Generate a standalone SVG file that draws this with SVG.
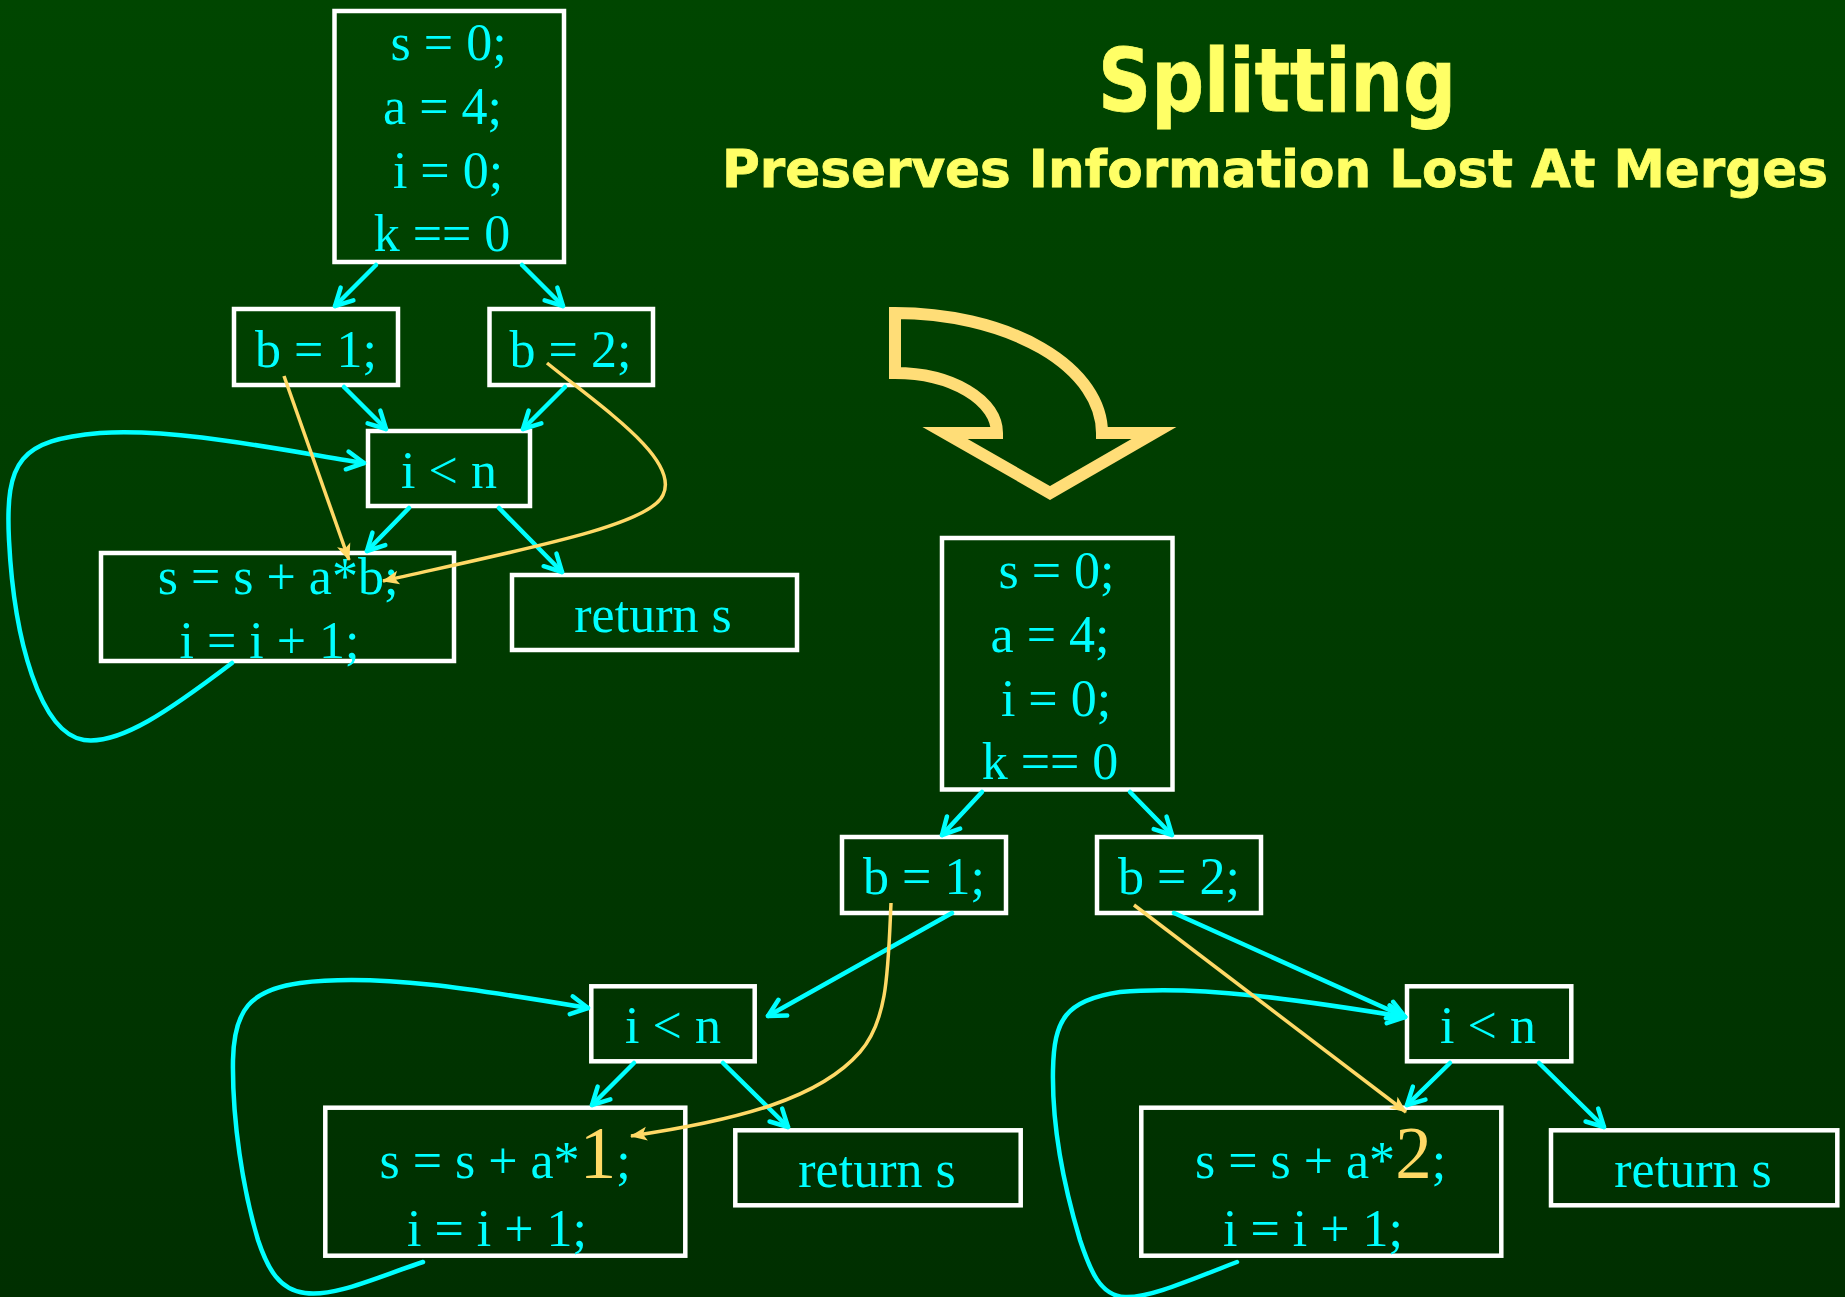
<svg xmlns="http://www.w3.org/2000/svg" width="1845" height="1297" viewBox="0 0 1845 1297">
  <defs>
    <linearGradient id="bg" x1="0" y1="0" x2="0" y2="1">
      <stop offset="0" stop-color="#004600"/>
      <stop offset="1" stop-color="#002f00"/>
    </linearGradient>
    <marker id="cyanHead" markerUnits="userSpaceOnUse" markerWidth="40" markerHeight="40" viewBox="-20 -20 40 40" refX="0" refY="0" orient="auto" overflow="visible">
      <path d="M-17,-9 L0,0 L-17,9" fill="none" stroke="#00ffff" stroke-width="4.5" stroke-linecap="round" stroke-linejoin="round"/>
    </marker>
    <marker id="goldHead" markerUnits="userSpaceOnUse" markerWidth="40" markerHeight="40" viewBox="-20 -20 40 40" refX="0" refY="0" orient="auto" overflow="visible">
      <path d="M1,0 L-16,-7 L-12,0 L-16,7 Z" fill="#ffd966"/>
    </marker>
    <style>
      .box { fill: none; stroke: #ffffff; stroke-width: 4.5; }
      .code { font-family: "Liberation Serif", "Times New Roman", serif; font-size: 52px; fill: #00ffff; text-anchor: middle; }
      .big { font-size: 73px; fill: #ffd966; }
      .flow { fill: none; stroke: #00ffff; stroke-width: 4.5; stroke-linecap: round; marker-end: url(#cyanHead); }
      .value { fill: none; stroke: #ffd966; stroke-width: 3.5; stroke-linecap: butt; marker-end: url(#goldHead); }
      .title { font-family: "DejaVu Sans", Verdana, sans-serif; font-weight: bold; fill: #ffff66; stroke: #ffff66; stroke-width: 0.8; }
    </style>
  </defs>

  <rect x="0" y="0" width="1845" height="1297" fill="url(#bg)"/>

  <!-- heading -->
  <g id="heading">
    <text class="title" x="1098" y="111" font-size="88" textLength="358" lengthAdjust="spacingAndGlyphs">Splitting</text>
    <text class="title" x="722" y="187" font-size="51.5" textLength="1106" lengthAdjust="spacingAndGlyphs">Preserves Information Lost At Merges</text>
  </g>

  <!-- transformation arrow between the two graphs -->
  <g id="transform-arrow">
    <path d="M895,313 L895,373 A102,60 0 0 1 997,433 L945,433 L1050,493 L1154,433 L1102,433 A207,120 0 0 0 895,313 Z"
          fill="none" stroke="#ffdd77" stroke-width="12" stroke-linejoin="miter" stroke-miterlimit="10"/>
  </g>

  <!-- ===== original graph ===== -->
  <g id="a-entry">
    <rect class="box" x="334.5" y="11" width="229.5" height="251"/>
    <text class="code" x="448.6" y="60">s = 0;</text>
    <text class="code" x="442.5" y="124">a = 4;</text>
    <text class="code" x="448" y="188">i = 0;</text>
    <text class="code" x="442" y="251">k == 0</text>
  </g>
  <g id="a-b1">
    <rect class="box" x="234" y="309" width="164" height="76"/>
    <text class="code" x="316" y="367">b = 1;</text>
  </g>
  <g id="a-b2">
    <rect class="box" x="489.5" y="309" width="163.5" height="76"/>
    <text class="code" x="570.5" y="367">b = 2;</text>
  </g>
  <g id="a-test">
    <rect class="box" x="368" y="431" width="162" height="75"/>
    <text class="code" x="449" y="488">i &lt; n</text>
  </g>
  <g id="a-body">
    <rect class="box" x="101" y="553" width="353" height="108"/>
    <text class="code" x="278" y="594">s = s + a*b;</text>
    <text class="code" x="269.5" y="658">i = i + 1;</text>
  </g>
  <g id="a-return">
    <rect class="box" x="512" y="575" width="285" height="75"/>
    <text class="code" x="653" y="632">return s</text>
  </g>

  <!-- ===== split graph ===== -->
  <g id="b-entry">
    <rect class="box" x="942" y="538" width="230.5" height="251.5"/>
    <text class="code" x="1056.5" y="588">s = 0;</text>
    <text class="code" x="1050" y="652">a = 4;</text>
    <text class="code" x="1056" y="716">i = 0;</text>
    <text class="code" x="1050" y="779">k == 0</text>
  </g>
  <g id="b-b1">
    <rect class="box" x="842" y="837" width="164" height="76"/>
    <text class="code" x="924" y="894">b = 1;</text>
  </g>
  <g id="b-b2">
    <rect class="box" x="1097" y="837" width="164" height="76"/>
    <text class="code" x="1179" y="894">b = 2;</text>
  </g>
  <g id="b-test1">
    <rect class="box" x="591.3" y="986.3" width="163.4" height="75"/>
    <text class="code" x="673" y="1043">i &lt; n</text>
  </g>
  <g id="b-body1">
    <rect class="box" x="325.3" y="1107.7" width="360" height="148"/>
    <text class="code" x="505" y="1178">s = s + a*<tspan class="big">1</tspan>;</text>
    <text class="code" x="497" y="1246">i = i + 1;</text>
  </g>
  <g id="b-return1">
    <rect class="box" x="735.3" y="1130.3" width="285.4" height="75"/>
    <text class="code" x="877" y="1187">return s</text>
  </g>
  <g id="b-test2">
    <rect class="box" x="1407" y="986.3" width="164.3" height="75"/>
    <text class="code" x="1488" y="1043">i &lt; n</text>
  </g>
  <g id="b-body2">
    <rect class="box" x="1141.3" y="1107.7" width="360" height="148"/>
    <text class="code" x="1320.5" y="1178">s = s + a*<tspan class="big">2</tspan>;</text>
    <text class="code" x="1313" y="1246">i = i + 1;</text>
  </g>
  <g id="b-return2">
    <rect class="box" x="1551" y="1130.3" width="286.3" height="75"/>
    <text class="code" x="1693" y="1187">return s</text>
  </g>

  <!-- connectors: control flow (cyan) and value flow (gold) -->
  <g id="connectors">
    <!-- original graph -->
    <path class="flow" d="M376,265 L335,306"/>
    <path class="flow" d="M522,265 L563,306"/>
    <path class="flow" d="M344,387 L386,429"/>
    <path class="flow" d="M565,387 L523,429"/>
    <path class="flow" d="M409,508 L367,551"/>
    <path class="flow" d="M499,508 L562,572"/>
    <path class="flow" d="M232,663 C170,710 120,745 84,740 C40,733 14,640 9,540 C5,460 20,440 100,433 C180,428 280,450 364,463"/>
    <path class="value" d="M284,376 L349,560"/>
    <path class="value" d="M547,363 C605,410 680,460 663,495 C650,525 530,548 383,581"/>

    <!-- split graph -->
    <path class="flow" d="M982,792 L942,835"/>
    <path class="flow" d="M1130,792 L1172,835"/>
    <path class="flow" d="M952,913 L768,1016"/>
    <path class="flow" d="M634,1063 L592,1105"/>
    <path class="flow" d="M723,1063 L788,1127"/>
    <path class="flow" d="M423,1262 C375,1278 335,1297 305,1293 C280,1290 268,1270 258,1240 C243,1190 232,1120 233,1060 C234,1010 250,990 300,983 C380,973 480,990 588,1008"/>
    <path class="flow" d="M1174,913 L1405,1017"/>
    <path class="flow" d="M1450,1063 L1407,1105"/>
    <path class="flow" d="M1539,1063 L1604,1127"/>
    <path class="flow" d="M1237,1262 C1190,1280 1150,1298 1125,1297 C1100,1296 1090,1270 1080,1240 C1062,1180 1052,1120 1053,1070 C1054,1020 1065,1000 1120,992 C1200,985 1300,1000 1405,1017"/>
    <path class="value" d="M891,903 C888,970 888,1020 860,1052 C820,1098 740,1120 631,1136"/>
    <path class="value" d="M1134,905 L1406,1112"/>
  </g>
</svg>
